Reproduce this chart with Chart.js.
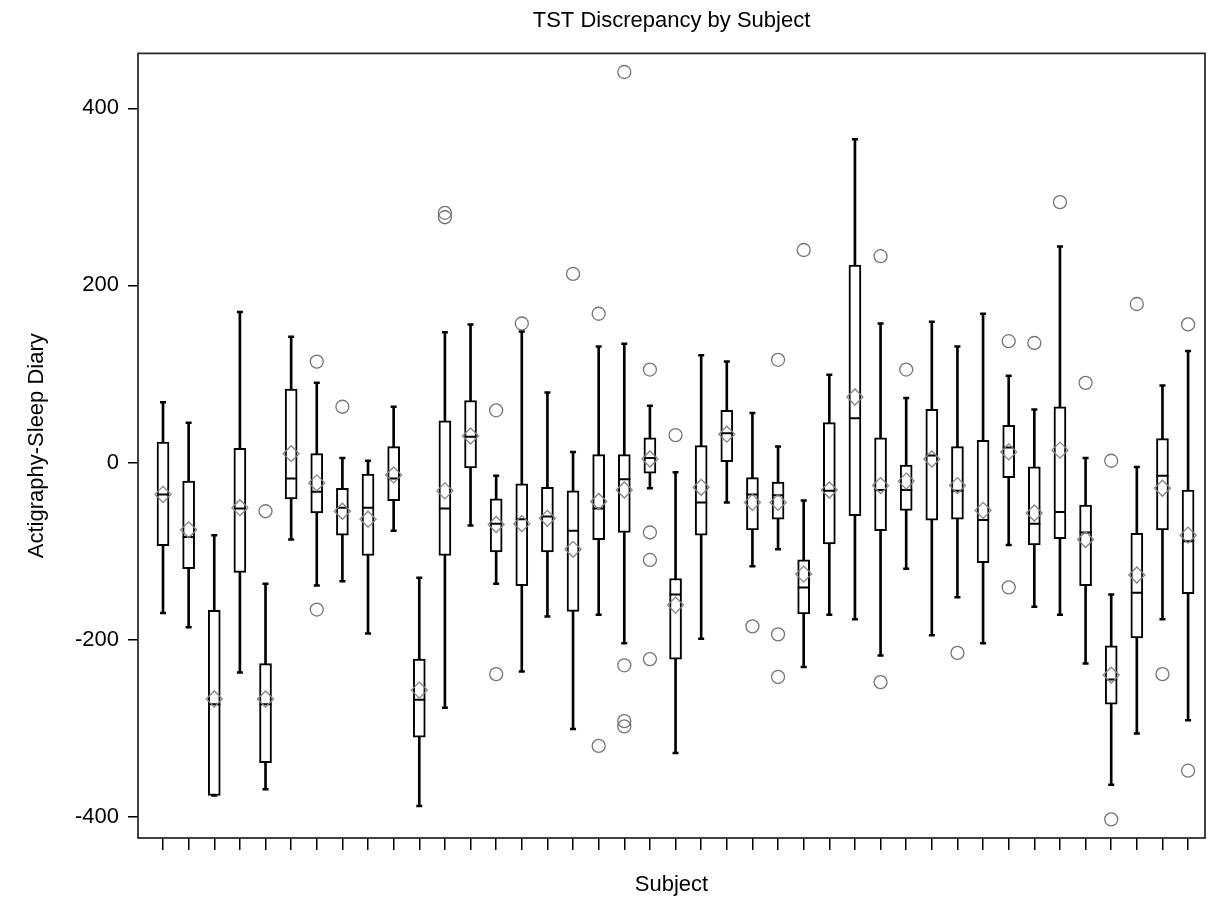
<!DOCTYPE html>
<html>
<head>
<meta charset="utf-8">
<title>TST Discrepancy by Subject</title>
<script src="https://cdn.jsdelivr.net/npm/chart.js@4.4.1/dist/chart.umd.min.js"></script>
<style>
  html, body { margin: 0; padding: 0; background: #fff; }
  #wrap { width: 1219px; height: 903px; position: relative; }
</style>
</head>
<body>
<div id="wrap"><canvas id="boxChart"></canvas></div>
<script>
// TST discrepancy (actigraphy minus sleep diary), one box per subject
const subjects = Array.from({ length: 41 }, (_, i) => 'S' + (i + 1))

const mins    = [-170, -186, -376, -237, -369,  -87, -139, -134, -193,  -77, -388, -277,  -71, -137, -236, -174, -301, -172, -204,  -29, -328, -199,  -45, -117,  -98, -231, -172, -177, -218, -120, -195, -152, -204,  -93, -163, -172, -227, -364, -306, -177, -291]
const q1s     = [ -94, -120, -376, -124, -339,  -41,  -57,  -82, -105,  -43, -310, -105,   -6, -101, -139, -101, -168,  -87,  -79,  -12, -222,  -82,    1,  -76,  -64, -171,  -92,  -60,  -77,  -54,  -65,  -64, -113,  -17,  -93,  -86, -139, -273, -198,  -76, -148]
const medians = [ -36,  -84, -273,  -52, -273,  -18,  -33,  -51,  -51,  -18, -268,  -52,   29,  -69,  -64,  -61,  -77,  -52,  -19,    5, -149,  -45,   33,  -36,  -37, -141,  -32,   50,  -31,  -31,    8,  -32,  -65,   17,  -69,  -56,  -79, -245, -147,  -15,  -89]
const q3s     = [  23,  -21, -167,   16, -227,   83,   10,  -29,  -13,   18, -222,   47,   70,  -41,  -24,  -28,  -32,    9,    9,   28, -131,   19,   59,  -17,  -22, -110,   45,  223,   28,   -3,   60,   18,   25,   42,   -5,   63,  -48, -207,  -80,   27,  -31]
const maxs    = [  68,   45,  -82,  170, -137,  142,   90,    5,    2,   63, -130,  147,  156,  -15,  148,   79,   12,  131,  134,   64,  -11,  121,  114,   56,   18,  -43,   99,  365,  157,   73,  159,  131,  168,   98,   60,  244,    5, -149,   -5,   87,  126]
const means   = [ -36,  -76, -267,  -51, -267,   10,  -23,  -55,  -64,  -14, -257,  -32,   30,  -70,  -69,  -63,  -98,  -44,  -31,    4, -161,  -28,   32,  -45,  -45, -126,  -31,   74,  -26,  -21,    4,  -26,  -54,   12,  -57,   14,  -87, -240, -127,  -29,  -82]
const outliers = [
  [], [], [], [], [-55], [], [114, -166], [63], [], [], [],
  [282, 277], [], [59, -239], [157], [], [213], [168, -320],
  [441, -229, -292, -298], [105, -79, -110, -222], [31], [], [], [-185],
  [116, -194, -242], [240], [], [], [233, -248], [105], [], [-215], [],
  [137, -141], [135], [294], [90], [2, -403], [179], [-239], [156, -348],
]
const yTicks = [-400, -200, 0, 200, 400]

const fontFamily = "'Liberation Sans', Arial, sans-serif"

// marco completo del área de datos
const framePlugin = {
  id: 'frame',
  beforeDatasetsDraw(chart) {
    const { ctx, chartArea: a } = chart
    ctx.save()
    ctx.strokeStyle = '#222'
    ctx.lineWidth = 1.7
    ctx.strokeRect(a.left, a.top, a.right - a.left, a.bottom - a.top)
    ctx.restore()
  },
}

const whiskerData = subjects.map((s, i) => ({ x: i, y: [mins[i], maxs[i]] }))
const boxData = subjects.map((s, i) => ({ x: i, y: [q1s[i], q3s[i]] }))
const medianData = subjects.map((s, i) => ({ x: i, y: medians[i] }))
const capData = subjects.flatMap((s, i) => [{ x: i, y: mins[i] }, { x: i, y: maxs[i] }])
const meanData = subjects.map((s, i) => ({ x: i, y: means[i] }))
const outlierData = subjects.flatMap((s, i) => outliers[i].map((v) => ({ x: i, y: v })))

new Chart(document.getElementById('boxChart'), {
  type: 'bar',
  data: {
    datasets: [
      {
        label: 'Mean',
        type: 'scatter',
        data: meanData,
        pointStyle: 'rectRot',
        pointRadius: 8,
        borderColor: '#858585',
        backgroundColor: 'rgba(0,0,0,0)',
        borderWidth: 1.3,
        order: 1,
      },
      {
        label: 'Outliers',
        type: 'scatter',
        data: outlierData,
        pointStyle: 'circle',
        pointRadius: 6.5,
        borderColor: '#757575',
        backgroundColor: 'rgba(0,0,0,0)',
        borderWidth: 1.3,
        order: 2,
      },
      {
        label: 'Median',
        type: 'scatter',
        data: medianData,
        pointStyle: 'line',
        pointRadius: 6,
        borderColor: '#000',
        borderWidth: 2,
        order: 3,
      },
      {
        label: 'Caps',
        type: 'scatter',
        data: capData,
        pointStyle: 'line',
        pointRadius: 3,
        borderColor: '#000',
        borderWidth: 2.5,
        order: 3,
      },
      {
        label: 'Box',
        data: boxData,
        backgroundColor: '#fff',
        borderColor: '#000',
        borderWidth: 2,
        borderSkipped: false,
        barThickness: 12,
        grouped: false,
        order: 4,
      },
      {
        label: 'Whisker',
        data: whiskerData,
        backgroundColor: '#000',
        borderWidth: 0,
        barThickness: 2,
        grouped: false,
        order: 5,
      },
    ],
  },
  options: {
    responsive: true,
    maintainAspectRatio: false,
    animation: false,
    layout: { padding: { left: 0, right: 14, top: 0, bottom: 0 } },
    plugins: {
      legend: { display: false },
      tooltip: { enabled: false },
      title: {
        display: true,
        fullSize: false,
        text: 'TST Discrepancy by Subject',
        color: '#000',
        font: { family: fontFamily, size: 22, weight: 'normal' },
        padding: { top: 8, bottom: 19 },
      },
    },
    scales: {
      x: {
        type: 'linear',
        min: -0.976,
        max: 40.66,
        offset: false,
        border: { display: false },
        grid: { offset: false, drawOnChartArea: false, drawTicks: true, tickLength: 12, color: '#000', lineWidth: 1.5 },
        ticks: { callback: () => '', maxRotation: 0, autoSkip: false },
        afterBuildTicks: (axis) => { axis.ticks = subjects.map((s, i) => ({ value: i })) },
        afterFit: (axis) => { axis.height = 65 },
        title: {
          display: true,
          text: 'Subject',
          color: '#000',
          font: { family: fontFamily, size: 22 },
          padding: 5,
        },
      },
      y: {
        min: -424,
        max: 462,
        border: { display: false },
        grid: { drawOnChartArea: false, drawTicks: true, tickLength: 10, color: '#000', lineWidth: 1.5 },
        ticks: { color: '#000', padding: 9, font: { family: fontFamily, size: 22 } },
        afterBuildTicks: (axis) => { axis.ticks = yTicks.map((v) => ({ value: v })) },
        afterFit: (axis) => { axis.width = 138 },
        title: {
          display: true,
          text: 'Actigraphy-Sleep Diary',
          color: '#000',
          font: { family: fontFamily, size: 22 },
          padding: 24,
        },
      },
    },
  },
  plugins: [framePlugin],
})
</script>
</body>
</html>
